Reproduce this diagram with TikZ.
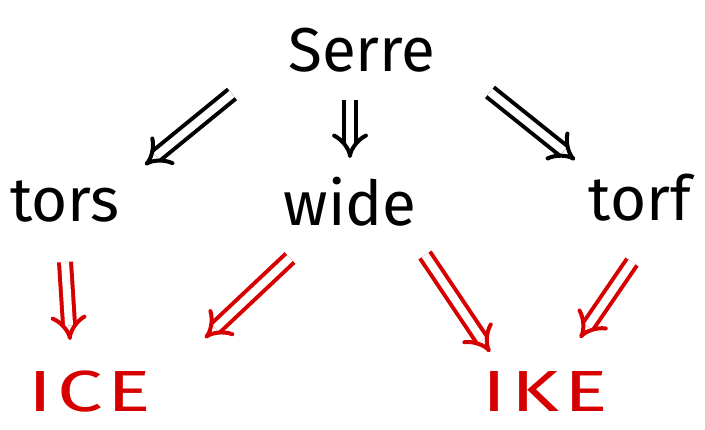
\documentclass[tikz,border=0pt]{standalone}
\usepackage{fontspec}
\setmainfont{Fira Sans}
\usetikzlibrary{arrows.meta}
\definecolor{inkred}{RGB}{214,0,0}
\tikzset{
  word/.style={inner sep=0pt, font=\fontsize{62}{66}\selectfont},
  redword/.style={inner sep=0pt, text=inkred, xscale=1.4, font=\fontsize{58}{62}\selectfont\addfontfeature{LetterSpace=6}},
  dbl/.style={draw=black, line width=4pt, double=white, double distance=8pt, -{Implies[scale=1.3]}, line cap=butt},
  dblred/.style={dbl, draw=inkred}
}
\begin{document}
\begin{tikzpicture}[x=1pt,y=-1pt]
\useasboundingbox (0,0) rectangle (705,430);
% words
\node[word] (serre) at (362,50) {Serre};
\node[word] (tors)  at (65,202) {tors};
\node[word] (wide)  at (350,202) {wide};
\node[word] (torf)  at (640,198) {torf};
\node[redword] (ice) at (90,392) {ICE};
\node[redword] (ike) at (545,392) {IKE};
% Serre to the three middle words
\draw[dbl] ([shift={(-130,44)}]serre.center) -- ([shift={(80,-37)}]tors.center);
\draw[dbl] ([shift={(-12,50)}]serre.center) -- ([shift={(0,-44)}]wide.center);
\draw[dbl] ([shift={(128,42)}]serre.center) -- ([shift={(-65,-38)}]torf.center);
% red arrows to ICE and IKE
\draw[dblred] ([shift={(0,60)}]tors.center) -- ([shift={(-20,-52)}]ice.center);
\draw[dblred] ([shift={(-60,56)}]wide.center) -- ([shift={(115,-54)}]ice.center);
\draw[dblred] ([shift={(75,53)}]wide.center) -- ([shift={(-55,-40)}]ike.center);
\draw[dblred] ([shift={(-8,64)}]torf.center) -- ([shift={(35,-54)}]ike.center);
\end{tikzpicture}
\end{document}
